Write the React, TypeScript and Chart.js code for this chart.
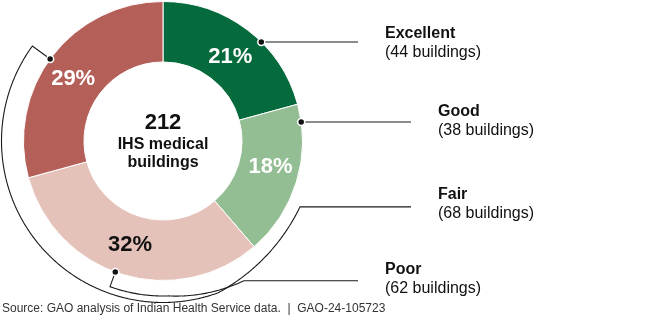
import React, { useEffect, useRef } from 'react';
import { Chart, registerables } from 'chart.js';

Chart.register(...registerables);

// ---- data ----
const categories = ['Excellent', 'Good', 'Fair', 'Poor'];
const buildingCounts = [44, 38, 68, 62];
const totalLabel = '212';
const centerLines = ['IHS medical', 'buildings'];
const sourceNote = 'Source: GAO analysis of Indian Health Service data.  |  GAO-24-105723';

// ---- styles ----
const FONT = "'Liberation Sans', Arial, Helvetica, sans-serif";
const sliceColors = ['#066b3c', '#93bd92', '#e5c2b9', '#b55f59'];
const percentColors = ['#ffffff', '#ffffff', '#111111', '#ffffff'];
const percentNudge = [
  [1, 3],
  [3, -6],
  [-1, -1],
  [-3, 4],
];
const OUTER_R = 139.5;
const INNER_R = 79;
// label layout (canvas px)
const labelRows = [
  { x: 385, y: 38, lineY: 42, lineEnd: 358 },
  { x: 438, y: 116, lineY: 122, lineEnd: 411 },
  { x: 438, y: 199, lineY: 0, lineEnd: 411 },
  { x: 385, y: 274, lineY: 0, lineEnd: 358 },
];

const total = buildingCounts.reduce((a, b) => a + b, 0);
const percentLabels = buildingCounts.map((v) => `${Math.round((v / total) * 100)}%`);
const countLabels = buildingCounts.map((v) => `(${v} buildings)`);

const annotate = {
  id: 'annotate',
  afterDatasetsDraw(chart: any) {
    const ctx: CanvasRenderingContext2D = chart.ctx;
    const arcs = chart.getDatasetMeta(0).data as any[];
    const a0 = arcs[0];
    const cx = a0.x;
    const cy = a0.y;
    const R = a0.outerRadius;
    const pt = (deg: number, r: number) => {
      const t = (deg * Math.PI) / 180;
      return [cx + r * Math.sin(t), cy - r * Math.cos(t)];
    };
    ctx.save();

    // percentage labels
    ctx.font = `bold 22px ${FONT}`;
    ctx.textAlign = 'center';
    ctx.textBaseline = 'middle';
    arcs.forEach((arc, i) => {
      const p = arc.tooltipPosition();
      ctx.fillStyle = percentColors[i];
      ctx.fillText(percentLabels[i], p.x + percentNudge[i][0], p.y + percentNudge[i][1]);
    });

    // centre text
    ctx.fillStyle = '#111111';
    ctx.textBaseline = 'alphabetic';
    ctx.font = `bold 22px ${FONT}`;
    ctx.fillText(totalLabel, cx, cy - 12);
    ctx.font = `bold 16px ${FONT}`;
    ctx.fillText(centerLines[0], cx, cy + 8);
    ctx.fillText(centerLines[1], cx, cy + 26);

    // leader lines
    ctx.strokeStyle = '#1a1a1a';
    ctx.lineWidth = 1.1;
    const dots: number[][] = [];

    // Excellent, Good: horizontal lines meeting the outer edge
    [0, 1].forEach((i) => {
      const row = labelRows[i];
      const dy = row.lineY - cy;
      const x0 = cx + Math.sqrt(R * R - dy * dy);
      ctx.beginPath();
      ctx.moveTo(x0, row.lineY);
      ctx.lineTo(row.lineEnd, row.lineY);
      ctx.stroke();
      dots.push([x0, row.lineY]);
    });

    // Fair: long bracket around the left side
    {
      const d = pt(306, R);
      ctx.beginPath();
      ctx.moveTo(d[0], d[1]);
      let last = pt(306, R + 22);
      ctx.lineTo(last[0], last[1]);
      for (let deg = 306; deg >= 115.7; deg -= 0.5) {
        const r = deg >= 160 ? R + 22 : R + 12.5 + 9.5 * Math.pow((deg - 115.7) / 44.3, 2);
        last = pt(deg, r);
        ctx.lineTo(last[0], last[1]);
      }
      last = pt(115.7, R + 12.5);
      ctx.lineTo(last[0], last[1]);
      ctx.lineTo(labelRows[2].lineEnd, last[1]);
      ctx.stroke();
      dots.push(d);
    }

    // Poor: inner bracket along the bottom
    {
      const d = pt(200, R);
      ctx.beginPath();
      ctx.moveTo(d[0], d[1]);
      let last = pt(200, R + 15.5);
      ctx.lineTo(last[0], last[1]);
      for (let deg = 200; deg >= 150; deg -= 0.5) {
        const r = R + 15.5 + Math.max(0, 178 - deg) * 0.23;
        last = pt(deg, r);
        ctx.lineTo(last[0], last[1]);
      }
      ctx.lineTo(labelRows[3].lineEnd, last[1]);
      ctx.stroke();
      dots.push(d);
    }

    // dots
    dots.forEach(([x, y]) => {
      ctx.beginPath();
      ctx.arc(x, y, 3.5, 0, Math.PI * 2);
      ctx.fillStyle = '#111111';
      ctx.fill();
      ctx.lineWidth = 1.5;
      ctx.strokeStyle = '#ffffff';
      ctx.stroke();
    });

    // category labels
    ctx.textAlign = 'left';
    ctx.textBaseline = 'alphabetic';
    ctx.fillStyle = '#111111';
    labelRows.forEach((row, i) => {
      ctx.font = `bold 16px ${FONT}`;
      ctx.fillText(categories[i], row.x, row.y);
      ctx.font = `16px ${FONT}`;
      ctx.fillText(countLabels[i], row.x, row.y + 19);
    });

    // source note
    ctx.font = `12px ${FONT}`;
    ctx.fillStyle = '#333333';
    ctx.fillText(sourceNote, 2, 312);

    ctx.restore();
  },
};

export default function App() {
  const canvasRef = useRef<HTMLCanvasElement | null>(null);

  useEffect(() => {
    if (!canvasRef.current) return;
    const chart = new Chart(canvasRef.current, {
      type: 'doughnut',
      data: {
        labels: categories,
        datasets: [
          {
            data: buildingCounts,
            backgroundColor: sliceColors,
            borderColor: '#ffffff',
            borderWidth: 1,
          },
        ],
      },
      options: {
        responsive: false,
        devicePixelRatio: 1,
        animation: false,
        events: [],
        radius: OUTER_R,
        cutout: `${(INNER_R / OUTER_R) * 100}%`,
        layout: { padding: { left: 0, top: 0, right: 324, bottom: 45 } },
        plugins: {
          legend: { display: false },
          tooltip: { enabled: false },
        },
      } as any,
      plugins: [annotate],
    });
    return () => chart.destroy();
  }, []);

  return (
    <div style={{ position: 'absolute', left: 0, top: 0, width: 650, height: 327, background: '#fff' }}>
      <canvas ref={canvasRef} width={650} height={327} style={{ display: 'block' }} />
    </div>
  );
}
